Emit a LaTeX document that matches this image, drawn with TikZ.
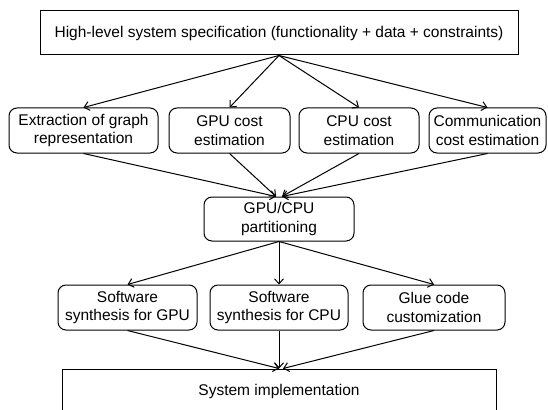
\documentclass[tikz,border=0pt]{standalone}
\usepackage{fontspec}
\setmainfont{Liberation Sans}
\usetikzlibrary{arrows.meta}
\tikzset{
  box/.style={draw, line width=1pt, align=center, inner sep=0pt, minimum height=44pt},
  rbox/.style={box, rounded corners=8pt},
  conn/.style={line width=1pt, -{Straight Barb[length=5pt,width=9pt,line width=1pt]}}
}
\begin{document}
\begin{tikzpicture}[x=1pt,y=-1pt,font=\fontsize{15.5}{18.5}\selectfont]
\useasboundingbox (0,0) rectangle (548,409);
\clip (0,0) rectangle (548,409);
\node[box, minimum width=478pt] (top) at (279,33) {High-level system specification (functionality + data + constraints)};
\node[rbox, minimum width=149pt, minimum height=45pt] (ex) at (83.5,130.5) {Extraction of graph\\representation};
\node[rbox, minimum width=121pt, minimum height=45pt] (gpu) at (229.5,130.5) {GPU cost\\estimation};
\node[rbox, minimum width=120pt, minimum height=45pt] (cpu) at (359,130.5) {CPU cost\\estimation};
\node[rbox, minimum width=117pt, minimum height=45pt] (com) at (487.5,130.5) {Communication\\cost estimation};
\node[rbox, minimum width=150pt] (part) at (279,219) {GPU/CPU\\partitioning};
\node[rbox, minimum width=139pt, minimum height=45pt] (sg) at (127.5,307.5) {Software\\synthesis for GPU};
\node[rbox, minimum width=138pt, minimum height=45pt] (sc) at (279,307.5) {Software\\synthesis for CPU};
\node[rbox, minimum width=142pt, minimum height=45pt] (glue) at (434,307.5) {Glue code\\customization};
\node[box, minimum width=434pt] (impl) at (279,391) {System implementation};
\coordinate (pL) at ([xshift=-3pt]part.north);
\coordinate (pR) at ([xshift=3pt]part.north);
\coordinate (iR) at ([xshift=4pt]impl.north);
\draw[conn] (top.south) -- (ex.north);
\draw[conn] (top.south) -- (gpu.north);
\draw[conn] (top.south) -- (cpu.north);
\draw[conn] (top.south) -- (com.north);
\draw[conn] (ex.south) -- (pL);
\draw[conn] (gpu.south) -- (pL);
\draw[conn] (cpu.south) -- (pR);
\draw[conn] (com.south) -- (pR);
\draw[conn] (part.south) -- (sg.north);
\draw[conn] (part.south) -- (sc.north);
\draw[conn] (part.south) -- (glue.north);
\draw[conn] (sg.south) -- (impl.north);
\draw[conn] (sc.south) -- (impl.north);
\draw[conn] (glue.south) -- (iR);
\end{tikzpicture}
\end{document}
